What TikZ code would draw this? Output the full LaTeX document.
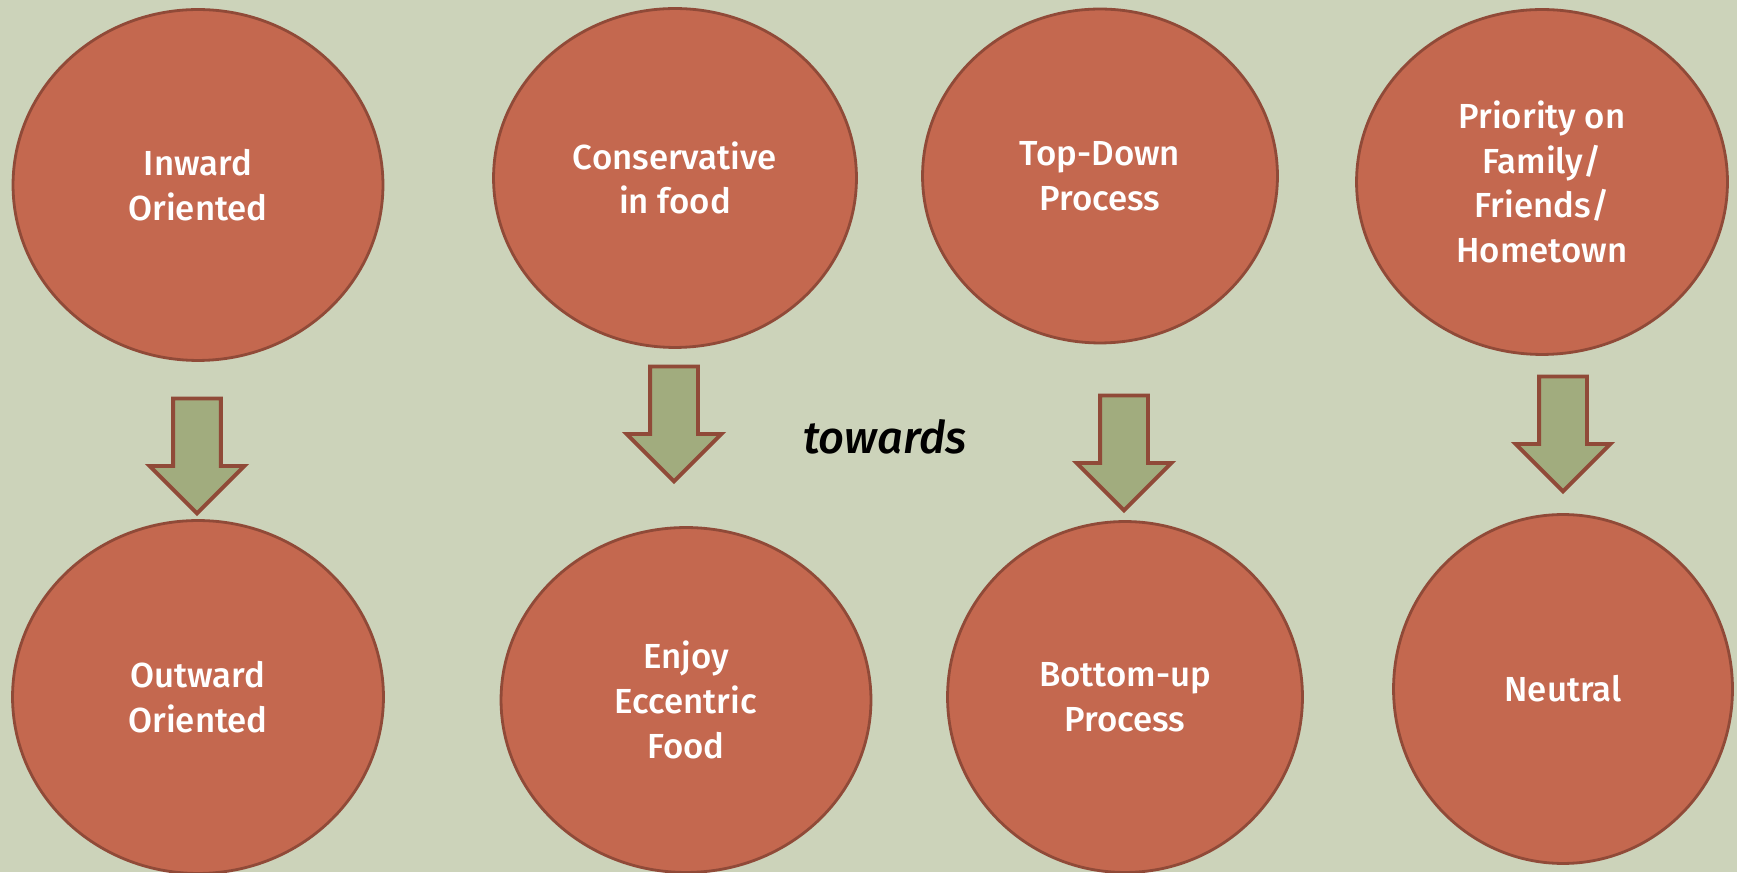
\documentclass[tikz,border=0pt]{standalone}
\usepackage{fontspec}
\usetikzlibrary{shapes.geometric,shapes.arrows,positioning}
\newfontfamily\circfont{Fira Sans}[BoldFont={Fira Sans Medium},BoldItalicFont={Fira Sans Medium Italic}]
\definecolor{bgsage}{RGB}{204,211,186}
\definecolor{circfill}{RGB}{196,104,79}
\definecolor{circline}{RGB}{144,74,56}
\definecolor{arrfill}{RGB}{161,172,126}
\tikzset{
	trait/.style={ellipse,draw=circline,fill=circfill,line width=1.6pt,inner sep=0pt,
		text=white,align=center,font=\circfont\bfseries\fontsize{19.8}{25.4}\selectfont},
	shift arrow/.style={single arrow,draw=circline,fill=arrfill,line width=2.2pt,rotate=-90,
		minimum height=2.3cm,inner xsep=0pt,inner ysep=0.44cm,single arrow head extend=0.47cm,
		single arrow tip angle=90},
}
\begin{document}
\begin{tikzpicture}[x=0.02cm,y=0.02cm]
	\fill [bgsage] (0,0) rectangle (1737,872);
	\useasboundingbox (0,0) rectangle (1737,872);
	% top row
	\node[trait,minimum width=7.4cm,minimum height=7.02cm] (inw) at (198,687){Inward\\Oriented};
	\node[trait,minimum width=7.26cm,minimum height=6.78cm] (cons) at (675,694){Conservative\\in food};
	\node[trait,minimum width=7.1cm,minimum height=6.68cm] (topd) at (1100,696){Top-Down\\Process};
	\node[trait,minimum width=7.42cm,minimum height=6.9cm] (prio) at (1542,690){Priority on\\Family/\\Friends/\\Hometown};
	% bottom row
	\node[trait,minimum width=7.42cm,minimum height=7.06cm] (outw) at (198,175){Outward\\Oriented};
	\node[trait,minimum width=7.4cm,minimum height=6.9cm] (ecc) at (686,172){Enjoy\\Eccentric\\Food};
	\node[trait,minimum width=7.1cm,minimum height=7.02cm] (botu) at (1125,175){Bottom-up\\Process};
	\node[trait,minimum width=6.78cm,minimum height=6.98cm] (neut) at (1563,183){Neutral};
	% block arrows
	\node[shift arrow] (a1) at (197,428){};
	\node[shift arrow] (a2) at (674,460){};
	\node[shift arrow] (a3) at (1124,431){};
	\node[shift arrow] (a4) at (1563,450){};
	\node[font=\circfont\bfseries\itshape\fontsize{25.7}{30}\selectfont] (tow) at (885,435){towards};
\end{tikzpicture}
\end{document}
